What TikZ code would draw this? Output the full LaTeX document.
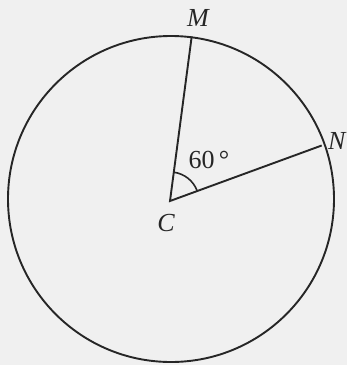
\documentclass[tikz,border=0pt]{standalone}
\usepackage{fontspec}
\setmainfont{Liberation Serif}
\usetikzlibrary{calc}
\begin{document}
\begin{tikzpicture}[x=1pt,y=-1pt,
  ln/.style={line width=1.9pt,draw=black!85},
  lbl/.style={font=\fontsize{26}{30}\selectfont, text=black!85, inner sep=0pt}]
\useasboundingbox[fill=black!6] (0,0) rectangle (347,365);
\coordinate (C) at (170,201);
\node[circle, minimum size=326pt, inner sep=0pt, ln] (circ) at (171,199) {};
\coordinate (M) at (191.7,36.5);
\coordinate (N) at (321.7,145.5);
\draw[ln] (M) -- (C) -- (N);
\draw[ln, line width=1.6pt] ($(C)+(82.5:29pt)$) arc[start angle=82.5, end angle=20.3, radius=29pt];
\node[lbl] (lm) at (198,18) {\itshape M};
\node[lbl, anchor=west] (ln2) at (328,141) {\itshape N};
\node[lbl] (lc) at (166,223) {\itshape C};
\node[lbl] (la) at (209,160) {60\,°};
\end{tikzpicture}
\end{document}
